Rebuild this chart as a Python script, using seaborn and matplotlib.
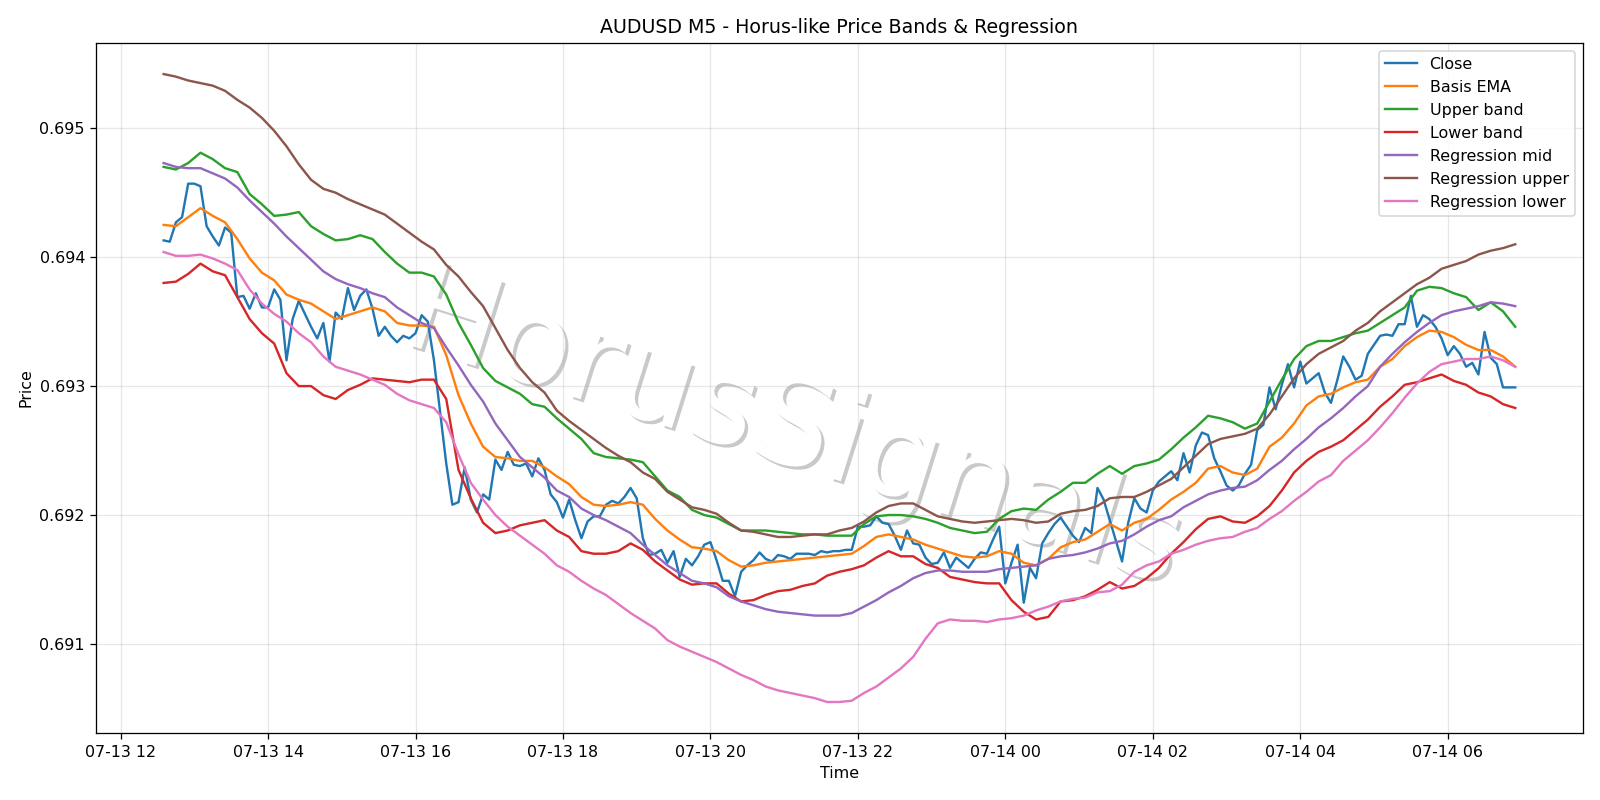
import pandas as pd
import numpy as np
import matplotlib
matplotlib.use("Agg")
import matplotlib.pyplot as plt
import matplotlib.dates as mdates
import matplotlib.patheffects as pe
import seaborn as sns

### Dados (AUDUSD M5) ###

inicio = "2025-07-13 12:35"

close = [
    0.69413, 0.69412, 0.69427, 0.69431, 0.69457, 0.69457, 0.69455, 0.69424, 0.69416, 0.69409,
    0.69423, 0.69419, 0.69369, 0.69370, 0.69360, 0.69372, 0.69361, 0.69361, 0.69375, 0.69367,
    0.69320, 0.69352, 0.69366, 0.69356, 0.69346, 0.69337, 0.69349, 0.69319, 0.69357, 0.69352,
    0.69376, 0.69359, 0.69370, 0.69375, 0.69360, 0.69339, 0.69346, 0.69339, 0.69334, 0.69339,
    0.69337, 0.69341, 0.69355, 0.69350, 0.69320, 0.69280, 0.69240, 0.69208, 0.69210, 0.69237,
    0.69212, 0.69202, 0.69216, 0.69212, 0.69243, 0.69235, 0.69249, 0.69239, 0.69238, 0.69240,
    0.69230, 0.69244, 0.69235, 0.69216, 0.69210, 0.69198, 0.69212, 0.69196, 0.69182, 0.69195,
    0.69199, 0.69199, 0.69208, 0.69211, 0.69209, 0.69214, 0.69221, 0.69213, 0.69182, 0.69169,
    0.69170, 0.69173, 0.69163, 0.69172, 0.69152, 0.69166, 0.69161, 0.69168, 0.69177, 0.69179,
    0.69165, 0.69149, 0.69149, 0.69137, 0.69156, 0.69161, 0.69165, 0.69171, 0.69166, 0.69164,
    0.69169, 0.69168, 0.69166, 0.69170, 0.69170, 0.69170, 0.69169, 0.69172, 0.69171, 0.69172,
    0.69172, 0.69173, 0.69173, 0.69191, 0.69191, 0.69192, 0.69199, 0.69194, 0.69193, 0.69184,
    0.69173, 0.69188, 0.69178, 0.69177, 0.69167, 0.69162, 0.69163, 0.69171, 0.69159, 0.69167,
    0.69163, 0.69159, 0.69166, 0.69171, 0.69170, 0.69181, 0.69191, 0.69147, 0.69163, 0.69177,
    0.69132, 0.69159, 0.69151, 0.69178, 0.69186, 0.69193, 0.69198, 0.69191, 0.69184, 0.69179,
    0.69190, 0.69186, 0.69221, 0.69212, 0.69196, 0.69180, 0.69164, 0.69194, 0.69213, 0.69205,
    0.69202, 0.69219, 0.69226, 0.69230, 0.69234, 0.69227, 0.69248, 0.69233, 0.69254, 0.69264,
    0.69262, 0.69244, 0.69234, 0.69223, 0.69219, 0.69223, 0.69232, 0.69239, 0.69266, 0.69270,
    0.69299, 0.69282, 0.69301, 0.69317, 0.69299, 0.69319, 0.69302, 0.69306, 0.69310, 0.69295,
    0.69287, 0.69304, 0.69323, 0.69315, 0.69305, 0.69308, 0.69325, 0.69332, 0.69339, 0.69340,
    0.69339, 0.69348, 0.69348, 0.69370, 0.69346, 0.69355, 0.69352, 0.69346, 0.69337, 0.69324,
    0.69331, 0.69325, 0.69315, 0.69318, 0.69309, 0.69342, 0.69322, 0.69317, 0.69299, 0.69299,
    0.69299,
]

# as curvas suaves foram lidas a cada 2 barras (10 min)
basis_ema = [
    0.69425, 0.69424, 0.69431, 0.69438, 0.69432, 0.69427, 0.69414, 0.69399, 0.69388, 0.69382,
    0.69371, 0.69367, 0.69364, 0.69358, 0.69352, 0.69355, 0.69358, 0.69361, 0.69358, 0.69349,
    0.69347, 0.69347, 0.69346, 0.69324, 0.69293, 0.69271, 0.69253, 0.69245, 0.69244, 0.69242,
    0.69242, 0.69237, 0.69230, 0.69224, 0.69214, 0.69208, 0.69207, 0.69208, 0.69210, 0.69208,
    0.69197, 0.69188, 0.69181, 0.69175, 0.69174, 0.69172, 0.69165, 0.69160, 0.69161, 0.69163,
    0.69164, 0.69165, 0.69166, 0.69167, 0.69168, 0.69169, 0.69170, 0.69176, 0.69183, 0.69185,
    0.69183, 0.69181, 0.69177, 0.69174, 0.69171, 0.69168, 0.69167, 0.69168, 0.69172, 0.69170,
    0.69163, 0.69161, 0.69166, 0.69175, 0.69179, 0.69181, 0.69187, 0.69193, 0.69188, 0.69194,
    0.69197, 0.69204, 0.69212, 0.69218, 0.69225, 0.69236, 0.69238, 0.69233, 0.69231, 0.69236,
    0.69253, 0.69260, 0.69271, 0.69285, 0.69292, 0.69294, 0.69299, 0.69303, 0.69305, 0.69315,
    0.69321, 0.69331, 0.69338, 0.69343, 0.69342, 0.69338, 0.69332, 0.69328, 0.69328, 0.69323,
    0.69315,
]

upper_band = [
    0.69470, 0.69468, 0.69473, 0.69481, 0.69476, 0.69469, 0.69466, 0.69449, 0.69441, 0.69432,
    0.69433, 0.69435, 0.69424, 0.69418, 0.69413, 0.69414, 0.69417, 0.69414, 0.69404, 0.69395,
    0.69388, 0.69388, 0.69385, 0.69371, 0.69349, 0.69332, 0.69314, 0.69304, 0.69299, 0.69294,
    0.69286, 0.69284, 0.69275, 0.69267, 0.69259, 0.69248, 0.69245, 0.69244, 0.69243, 0.69241,
    0.69230, 0.69219, 0.69214, 0.69204, 0.69200, 0.69198, 0.69193, 0.69188, 0.69188, 0.69188,
    0.69187, 0.69186, 0.69185, 0.69185, 0.69184, 0.69184, 0.69184, 0.69193, 0.69199, 0.69200,
    0.69200, 0.69199, 0.69197, 0.69194, 0.69190, 0.69188, 0.69186, 0.69187, 0.69197, 0.69203,
    0.69205, 0.69204, 0.69212, 0.69218, 0.69225, 0.69225, 0.69232, 0.69238, 0.69232, 0.69238,
    0.69240, 0.69243, 0.69251, 0.69260, 0.69268, 0.69277, 0.69275, 0.69272, 0.69267, 0.69271,
    0.69288, 0.69305, 0.69321, 0.69331, 0.69335, 0.69335, 0.69338, 0.69341, 0.69343, 0.69349,
    0.69355, 0.69361, 0.69374, 0.69377, 0.69376, 0.69372, 0.69369, 0.69359, 0.69365, 0.69358,
    0.69346,
]

lower_band = [
    0.69380, 0.69381, 0.69387, 0.69395, 0.69389, 0.69386, 0.69369, 0.69352, 0.69341, 0.69333,
    0.69310, 0.69300, 0.69300, 0.69293, 0.69290, 0.69297, 0.69301, 0.69306, 0.69305, 0.69304,
    0.69303, 0.69305, 0.69305, 0.69290, 0.69235, 0.69213, 0.69194, 0.69186, 0.69188, 0.69192,
    0.69194, 0.69196, 0.69188, 0.69183, 0.69172, 0.69170, 0.69170, 0.69172, 0.69178, 0.69173,
    0.69164, 0.69157, 0.69150, 0.69146, 0.69147, 0.69147, 0.69139, 0.69133, 0.69134, 0.69138,
    0.69141, 0.69142, 0.69145, 0.69147, 0.69153, 0.69156, 0.69158, 0.69161, 0.69167, 0.69172,
    0.69168, 0.69168, 0.69162, 0.69159, 0.69152, 0.69150, 0.69148, 0.69147, 0.69147, 0.69134,
    0.69125, 0.69119, 0.69121, 0.69133, 0.69134, 0.69137, 0.69142, 0.69148, 0.69143, 0.69145,
    0.69151, 0.69159, 0.69170, 0.69179, 0.69189, 0.69197, 0.69199, 0.69195, 0.69194, 0.69199,
    0.69207, 0.69219, 0.69233, 0.69242, 0.69249, 0.69253, 0.69258, 0.69266, 0.69274, 0.69284,
    0.69292, 0.69301, 0.69303, 0.69306, 0.69309, 0.69304, 0.69301, 0.69295, 0.69292, 0.69286,
    0.69283,
]

reg_mid = [
    0.69473, 0.69470, 0.69469, 0.69469, 0.69465, 0.69461, 0.69454, 0.69444, 0.69435, 0.69426,
    0.69416, 0.69407, 0.69398, 0.69389, 0.69383, 0.69379, 0.69376, 0.69372, 0.69369, 0.69361,
    0.69355, 0.69349, 0.69345, 0.69330, 0.69316, 0.69301, 0.69288, 0.69271, 0.69258, 0.69245,
    0.69237, 0.69229, 0.69219, 0.69214, 0.69205, 0.69200, 0.69196, 0.69191, 0.69186, 0.69177,
    0.69169, 0.69161, 0.69155, 0.69149, 0.69147, 0.69144, 0.69137, 0.69133, 0.69130, 0.69127,
    0.69125, 0.69124, 0.69123, 0.69122, 0.69122, 0.69122, 0.69124, 0.69129, 0.69134, 0.69140,
    0.69145, 0.69151, 0.69155, 0.69157, 0.69157, 0.69156, 0.69156, 0.69156, 0.69158, 0.69159,
    0.69160, 0.69161, 0.69166, 0.69168, 0.69169, 0.69171, 0.69174, 0.69178, 0.69180, 0.69185,
    0.69191, 0.69196, 0.69199, 0.69206, 0.69211, 0.69216, 0.69219, 0.69221, 0.69222, 0.69227,
    0.69235, 0.69242, 0.69251, 0.69259, 0.69268, 0.69275, 0.69283, 0.69292, 0.69300, 0.69315,
    0.69325, 0.69334, 0.69342, 0.69349, 0.69355, 0.69358, 0.69360, 0.69362, 0.69365, 0.69364,
    0.69362,
]

reg_upper = [
    0.69542, 0.69540, 0.69537, 0.69535, 0.69533, 0.69529, 0.69522, 0.69516, 0.69508, 0.69498,
    0.69486, 0.69472, 0.69460, 0.69453, 0.69450, 0.69445, 0.69441, 0.69437, 0.69433, 0.69426,
    0.69419, 0.69412, 0.69406, 0.69394, 0.69385, 0.69373, 0.69362, 0.69345, 0.69328, 0.69314,
    0.69303, 0.69295, 0.69281, 0.69273, 0.69266, 0.69259, 0.69252, 0.69246, 0.69241, 0.69233,
    0.69228, 0.69218, 0.69212, 0.69206, 0.69204, 0.69201, 0.69194, 0.69188, 0.69187, 0.69185,
    0.69183, 0.69183, 0.69184, 0.69185, 0.69185, 0.69188, 0.69190, 0.69195, 0.69202, 0.69207,
    0.69209, 0.69209, 0.69204, 0.69199, 0.69197, 0.69195, 0.69194, 0.69195, 0.69196, 0.69197,
    0.69196, 0.69194, 0.69195, 0.69201, 0.69203, 0.69204, 0.69207, 0.69213, 0.69214, 0.69214,
    0.69218, 0.69223, 0.69228, 0.69237, 0.69246, 0.69255, 0.69259, 0.69261, 0.69263, 0.69267,
    0.69278, 0.69292, 0.69306, 0.69317, 0.69325, 0.69330, 0.69335, 0.69343, 0.69349, 0.69358,
    0.69365, 0.69372, 0.69379, 0.69384, 0.69391, 0.69394, 0.69397, 0.69402, 0.69405, 0.69407,
    0.69410,
]

reg_lower = [
    0.69404, 0.69401, 0.69401, 0.69402, 0.69399, 0.69395, 0.69390, 0.69375, 0.69364, 0.69356,
    0.69350, 0.69341, 0.69334, 0.69323, 0.69315, 0.69312, 0.69309, 0.69305, 0.69301, 0.69294,
    0.69289, 0.69286, 0.69283, 0.69272, 0.69247, 0.69225, 0.69212, 0.69200, 0.69191, 0.69184,
    0.69177, 0.69170, 0.69161, 0.69156, 0.69149, 0.69143, 0.69138, 0.69131, 0.69124, 0.69118,
    0.69112, 0.69103, 0.69098, 0.69094, 0.69090, 0.69086, 0.69081, 0.69076, 0.69072, 0.69067,
    0.69064, 0.69062, 0.69060, 0.69058, 0.69055, 0.69055, 0.69056, 0.69062, 0.69067, 0.69074,
    0.69081, 0.69090, 0.69104, 0.69116, 0.69119, 0.69118, 0.69118, 0.69117, 0.69119, 0.69120,
    0.69122, 0.69126, 0.69129, 0.69133, 0.69135, 0.69136, 0.69140, 0.69141, 0.69146, 0.69156,
    0.69161, 0.69164, 0.69170, 0.69173, 0.69177, 0.69180, 0.69182, 0.69183, 0.69187, 0.69190,
    0.69197, 0.69203, 0.69211, 0.69218, 0.69226, 0.69231, 0.69242, 0.69250, 0.69258, 0.69268,
    0.69279, 0.69291, 0.69302, 0.69311, 0.69317, 0.69319, 0.69321, 0.69321, 0.69323, 0.69320,
    0.69315,
]

tempo = pd.date_range(inicio, periods=len(close), freq="5min")
tempo_suave = tempo[::2]

df_close = pd.DataFrame({"Time": tempo, "Close": close})
df_bandas = pd.DataFrame({
    "Time": tempo_suave,
    "Basis EMA": basis_ema,
    "Upper band": upper_band,
    "Lower band": lower_band,
    "Regression mid": reg_mid,
    "Regression upper": reg_upper,
    "Regression lower": reg_lower,
})

cores = sns.color_palette("tab10")

### Grafico ###

fig, ax = plt.subplots(figsize=(14, 7))

sns.lineplot(data=df_close, x="Time", y="Close", ax=ax, label="Close",
             color=cores[0], linewidth=1.5, estimator=None)

for k, nome in enumerate(["Basis EMA", "Upper band", "Lower band",
                          "Regression mid", "Regression upper", "Regression lower"]):
    sns.lineplot(data=df_bandas, x="Time", y=nome, ax=ax, label=nome,
                 color=cores[k + 1], linewidth=1.5, estimator=None)

# marca d'agua
ax.text(0.469, 0.439, "HorusSignals", transform=ax.transAxes,
        fontsize=78, color="white", rotation=-17.5,
        ha="center", va="center", zorder=0,
        path_effects=[pe.withSimplePatchShadow()])

ax.set_title("AUDUSD M5 - Horus-like Price Bands & Regression")
ax.set_xlabel("Time")
ax.set_ylabel("Price")
ax.grid(True, alpha=0.3)
ax.xaxis.set_major_locator(mdates.HourLocator(byhour=range(0, 24, 2)))
ax.xaxis.set_major_formatter(mdates.DateFormatter("%m-%d %H"))
ax.ticklabel_format(axis="y", useOffset=False)
ax.legend(loc="upper right")

plt.tight_layout()
plt.savefig("out.png", dpi=1600 / 14)
